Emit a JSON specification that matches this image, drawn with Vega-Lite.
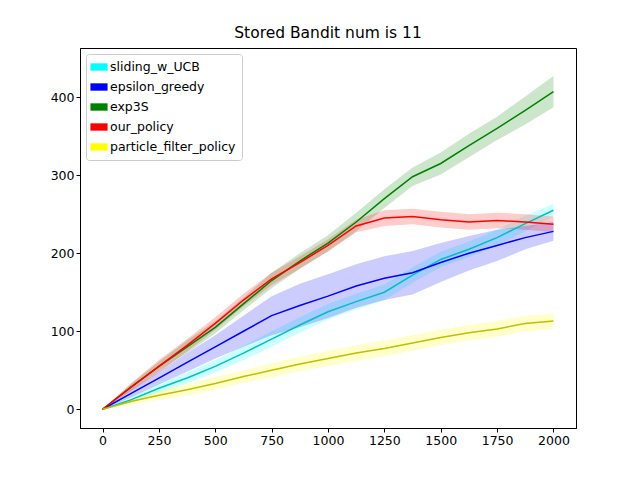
{
"$schema":"https://vega.github.io/schema/vega-lite/v6.json",
"autosize":"none","width":496,"height":380,
"padding":{"left":80,"top":48,"right":64,"bottom":52},
"config":{"font":"DejaVu Sans","view":{"stroke":"black"},"axis":{"grid":false,"domainColor":"black","tickColor":"black","labelColor":"black","labelFontSize":12.5,"title":null,"tickSize":4,"format":"d"}},
"title":{"text":"Stored Bandit num is 11","fontSize":15.5,"fontWeight":"normal","font":"DejaVu Sans","offset":7,"color":"black"},
"data":{"values":[
{"p":"sliding_w_UCB","x":0,"y":0,"e":0},{"p":"sliding_w_UCB","x":125,"y":12,"e":4},{"p":"sliding_w_UCB","x":250,"y":27,"e":6},{"p":"sliding_w_UCB","x":375,"y":40,"e":7},{"p":"sliding_w_UCB","x":500,"y":55,"e":8},{"p":"sliding_w_UCB","x":625,"y":72,"e":9},{"p":"sliding_w_UCB","x":750,"y":90,"e":10},{"p":"sliding_w_UCB","x":875,"y":108,"e":10},{"p":"sliding_w_UCB","x":1000,"y":125,"e":10},{"p":"sliding_w_UCB","x":1125,"y":138,"e":10},{"p":"sliding_w_UCB","x":1250,"y":150,"e":10},{"p":"sliding_w_UCB","x":1375,"y":172,"e":10},{"p":"sliding_w_UCB","x":1500,"y":192,"e":10},{"p":"sliding_w_UCB","x":1625,"y":205,"e":10},{"p":"sliding_w_UCB","x":1750,"y":220,"e":10},{"p":"sliding_w_UCB","x":1875,"y":238,"e":10},{"p":"sliding_w_UCB","x":2000,"y":255,"e":8},
{"p":"epsilon_greedy","x":0,"y":0,"e":0},{"p":"epsilon_greedy","x":125,"y":20,"e":5},{"p":"epsilon_greedy","x":250,"y":40,"e":8},{"p":"epsilon_greedy","x":375,"y":60,"e":12},{"p":"epsilon_greedy","x":500,"y":80,"e":15},{"p":"epsilon_greedy","x":625,"y":100,"e":20},{"p":"epsilon_greedy","x":750,"y":120,"e":25},{"p":"epsilon_greedy","x":875,"y":133,"e":28},{"p":"epsilon_greedy","x":1000,"y":145,"e":28},{"p":"epsilon_greedy","x":1125,"y":158,"e":28},{"p":"epsilon_greedy","x":1250,"y":168,"e":28},{"p":"epsilon_greedy","x":1375,"y":175,"e":28},{"p":"epsilon_greedy","x":1500,"y":188,"e":25},{"p":"epsilon_greedy","x":1625,"y":200,"e":22},{"p":"epsilon_greedy","x":1750,"y":210,"e":20},{"p":"epsilon_greedy","x":1875,"y":220,"e":15},{"p":"epsilon_greedy","x":2000,"y":228,"e":12},
{"p":"exp3S","x":0,"y":0,"e":0},{"p":"exp3S","x":125,"y":28,"e":4},{"p":"exp3S","x":250,"y":55,"e":6},{"p":"exp3S","x":375,"y":80,"e":8},{"p":"exp3S","x":500,"y":105,"e":8},{"p":"exp3S","x":625,"y":135,"e":8},{"p":"exp3S","x":750,"y":165,"e":10},{"p":"exp3S","x":875,"y":190,"e":10},{"p":"exp3S","x":1000,"y":213,"e":10},{"p":"exp3S","x":1125,"y":240,"e":12},{"p":"exp3S","x":1250,"y":270,"e":12},{"p":"exp3S","x":1375,"y":298,"e":12},{"p":"exp3S","x":1500,"y":315,"e":14},{"p":"exp3S","x":1625,"y":338,"e":15},{"p":"exp3S","x":1750,"y":360,"e":15},{"p":"exp3S","x":1875,"y":383,"e":18},{"p":"exp3S","x":2000,"y":407,"e":20},
{"p":"our_policy","x":0,"y":0,"e":0},{"p":"our_policy","x":125,"y":28,"e":5},{"p":"our_policy","x":250,"y":55,"e":8},{"p":"our_policy","x":375,"y":82,"e":8},{"p":"our_policy","x":500,"y":110,"e":8},{"p":"our_policy","x":625,"y":140,"e":8},{"p":"our_policy","x":750,"y":167,"e":8},{"p":"our_policy","x":875,"y":188,"e":8},{"p":"our_policy","x":1000,"y":210,"e":8},{"p":"our_policy","x":1125,"y":235,"e":8},{"p":"our_policy","x":1250,"y":245,"e":10},{"p":"our_policy","x":1375,"y":247,"e":10},{"p":"our_policy","x":1500,"y":243,"e":10},{"p":"our_policy","x":1625,"y":240,"e":10},{"p":"our_policy","x":1750,"y":242,"e":10},{"p":"our_policy","x":1875,"y":240,"e":10},{"p":"our_policy","x":2000,"y":237,"e":10},
{"p":"particle_filter_policy","x":0,"y":0,"e":0},{"p":"particle_filter_policy","x":125,"y":10,"e":4},{"p":"particle_filter_policy","x":250,"y":18,"e":6},{"p":"particle_filter_policy","x":375,"y":25,"e":7},{"p":"particle_filter_policy","x":500,"y":33,"e":8},{"p":"particle_filter_policy","x":625,"y":42,"e":8},{"p":"particle_filter_policy","x":750,"y":50,"e":9},{"p":"particle_filter_policy","x":875,"y":58,"e":9},{"p":"particle_filter_policy","x":1000,"y":65,"e":10},{"p":"particle_filter_policy","x":1125,"y":72,"e":10},{"p":"particle_filter_policy","x":1250,"y":78,"e":10},{"p":"particle_filter_policy","x":1375,"y":85,"e":10},{"p":"particle_filter_policy","x":1500,"y":92,"e":10},{"p":"particle_filter_policy","x":1625,"y":98,"e":10},{"p":"particle_filter_policy","x":1750,"y":103,"e":10},{"p":"particle_filter_policy","x":1875,"y":110,"e":10},{"p":"particle_filter_policy","x":2000,"y":113,"e":10}
]},
"transform":[{"calculate":"datum.y-datum.e","as":"lo"},{"calculate":"datum.y+datum.e","as":"hi"}],
"layer":[
{"mark":{"type":"area","opacity":0.2},
 "encoding":{
  "x":{"field":"x","type":"quantitative","scale":{"domain":[-100,2100],"nice":false},"axis":{"values":[0,250,500,750,1000,1250,1500,1750,2000]}},
  "y":{"field":"lo","type":"quantitative","scale":{"domain":[-24,463],"nice":false},"axis":{"values":[0,100,200,300,400]}},
  "y2":{"field":"hi"},
  "fill":{"field":"p","type":"nominal","scale":{"domain":["sliding_w_UCB","epsilon_greedy","exp3S","our_policy","particle_filter_policy"],"range":["#00ffff","#0000ff","#008000","#ff0000","#ffff00"]},
   "legend":{"title":null,"orient":"none","legendX":6,"legendY":6,"fillColor":"white","strokeColor":"#cccccc","padding":6,"cornerRadius":3,"symbolOpacity":1,"symbolType":"M-1.4,-0.6H1.4V0.6H-1.4Z","symbolSize":150,"labelFontSize":12.5,"rowPadding":6,"labelColor":"black","values":["sliding_w_UCB","epsilon_greedy","exp3S","our_policy","particle_filter_policy"]}}}},
{"mark":{"type":"line","strokeWidth":1.5},
 "encoding":{
  "x":{"field":"x","type":"quantitative"},
  "y":{"field":"y","type":"quantitative"},
  "stroke":{"field":"p","type":"nominal","scale":{"domain":["sliding_w_UCB","epsilon_greedy","exp3S","our_policy","particle_filter_policy"],"range":["#00bfbf","#0000ff","#008000","#ff0000","#bfbf00"]},"legend":null}}}
],
"resolve":{"scale":{"fill":"independent","stroke":"independent"}}
}
